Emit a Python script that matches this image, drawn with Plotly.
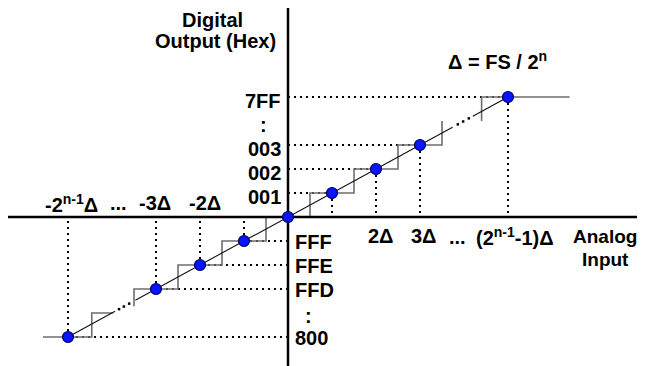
import plotly.graph_objects as go

# ---- data (units of one LSB, Δ) ----
code_levels = [-5, -3, -2, -1, 0, 1, 2, 3, 5]          # ideal code centres shown as dots
pos_codes = ["001", "002", "003", "7FF"]
pos_levels = [1, 2, 3, 5]
neg_codes = ["FFF", "FFE", "FFD", "800"]
neg_levels = [-1, -2, -3, -5]
pos_in_labels = ["2Δ", "3Δ", "(2<sup>n-1</sup>-1)Δ"]
pos_in_levels = [2, 3, 5]
neg_in_labels = ["-2<sup>n-1</sup>Δ", "-3Δ", "-2Δ"]
neg_in_levels = [-5, -3, -2]

# staircase transfer function (transitions at half-LSB)
stair_pos_x = [0.5, 0.5, 1.5, 1.5, 2.5, 2.5, 3.5, 3.5]
stair_pos_y = [0, 1, 1, 2, 2, 3, 3, 4]
stair_top_x = [4.4, 4.4, 6.4]
stair_top_y = [4, 5, 5]
stair_neg_x = [-0.5, -0.5, -1.5, -1.5, -2.5, -2.5, -3.5, -3.5]
stair_neg_y = [0, -1, -1, -2, -2, -3, -3, -3.72]
stair_bot_x = [-3.98, -4.46, -4.46, -5.57]
stair_bot_y = [-4, -4, -5, -5]

# ideal straight line segments and the "..." dots on it
line_segs = [(-5, -3.93), (-3.47, 3.74), (4.2, 5)]
line_dots = [-3.84, -3.73, -3.61, 3.86, 3.98, 4.11]

# ---- geometry: pixel mapping (page body has an 8px margin) ----
PAD = 8
W, H = 645 - PAD, 366 - PAD
OX, OY = 288 - PAD, 217 - PAD
SX, SY = 44, 24
xr = [(0 - OX) / SX, (W - OX) / SX]
yr = [(OY - H) / SY, (OY - 0) / SY]

fig = go.Figure()

def seg(xs, ys, color, width, dash="solid"):
    fig.add_trace(go.Scatter(x=xs, y=ys, mode="lines",
                             line=dict(color=color, width=width, dash=dash),
                             hoverinfo="skip", showlegend=False))

def px_x(p):
    return (p - PAD - OX) / SX

def px_y(p):
    return (OY - (p - PAD)) / SY

DOT = "2px,4px"
# dotted guides
for lv in pos_levels + neg_levels:
    seg([0, lv], [lv, lv], "black", 2, DOT)
    seg([lv, lv], [lv, 0], "black", 2, DOT)

# staircase
STEP = "#6e6e6e"
seg(stair_pos_x, stair_pos_y, STEP, 1.6)
seg(stair_top_x, stair_top_y, STEP, 1.6)
seg(stair_neg_x, stair_neg_y, STEP, 1.6)
seg(stair_bot_x, stair_bot_y, STEP, 1.6)

# ideal line
for a, b in line_segs:
    seg([a, b], [a, b], "#111111", 1.1)
fig.add_trace(go.Scatter(x=line_dots, y=line_dots, mode="markers",
                         marker=dict(color="black", size=2.5, symbol="square"),
                         hoverinfo="skip", showlegend=False))

# axes
seg([px_x(8), px_x(645)], [0, 0], "black", 2.5)
seg([0, 0], [px_y(8), px_y(366)], "black", 2.5)

# code points
fig.add_trace(go.Scatter(x=code_levels, y=code_levels, mode="markers",
                         marker=dict(color="#0a14ff", size=11,
                                     line=dict(color="#000060", width=1.2)),
                         hoverinfo="skip", showlegend=False))

FONT = dict(family="Liberation Sans, Arial, sans-serif", size=20, color="black")

def txt(x, y, text, xanchor="center", xshift=0, yshift=0, size=20):
    f = dict(FONT)
    f["size"] = size
    fig.add_annotation(x=x, y=y, text="<b>" + text + "</b>", showarrow=False,
                       xanchor=xanchor, yanchor="middle", xshift=xshift,
                       yshift=yshift, font=f)

# output code labels
for c, lv in zip(pos_codes, pos_levels):
    txt(0, lv, c, xanchor="right", xshift=-5, yshift=-3.5)
for c, lv in zip(neg_codes, neg_levels):
    txt(0, lv, c, xanchor="left", xshift=5, yshift=-1)
txt(px_x(263), px_y(125), ":")
txt(px_x(308), px_y(316), ":")

# input labels
for t, lv, sh in zip(pos_in_labels, pos_in_levels, [5, 4, 7]):
    txt(lv, 0, t, xshift=sh, yshift=-19)
for t, lv, sh in zip(neg_in_labels, neg_in_levels, [3, -1, 5]):
    txt(lv, 0, t, xshift=sh, yshift=14)
txt(px_x(118), px_y(203), "...")
txt(px_x(457), px_y(237), "...")

# titles
txt(px_x(212), px_y(20), "Digital")
txt(px_x(215), px_y(41), "Output (Hex)")
txt(px_x(605), px_y(236), "Analog", size=19)
txt(px_x(605), px_y(259), "Input", size=19)
txt(px_x(497), px_y(60), "Δ = FS / 2<sup>n</sup>")

fig.update_layout(width=W, height=H, margin=dict(l=0, r=0, t=0, b=0),
                  paper_bgcolor="white", plot_bgcolor="white",
                  xaxis=dict(range=xr, visible=False, fixedrange=True),
                  yaxis=dict(range=yr, visible=False, fixedrange=True))

fig.write_html("out.html")
